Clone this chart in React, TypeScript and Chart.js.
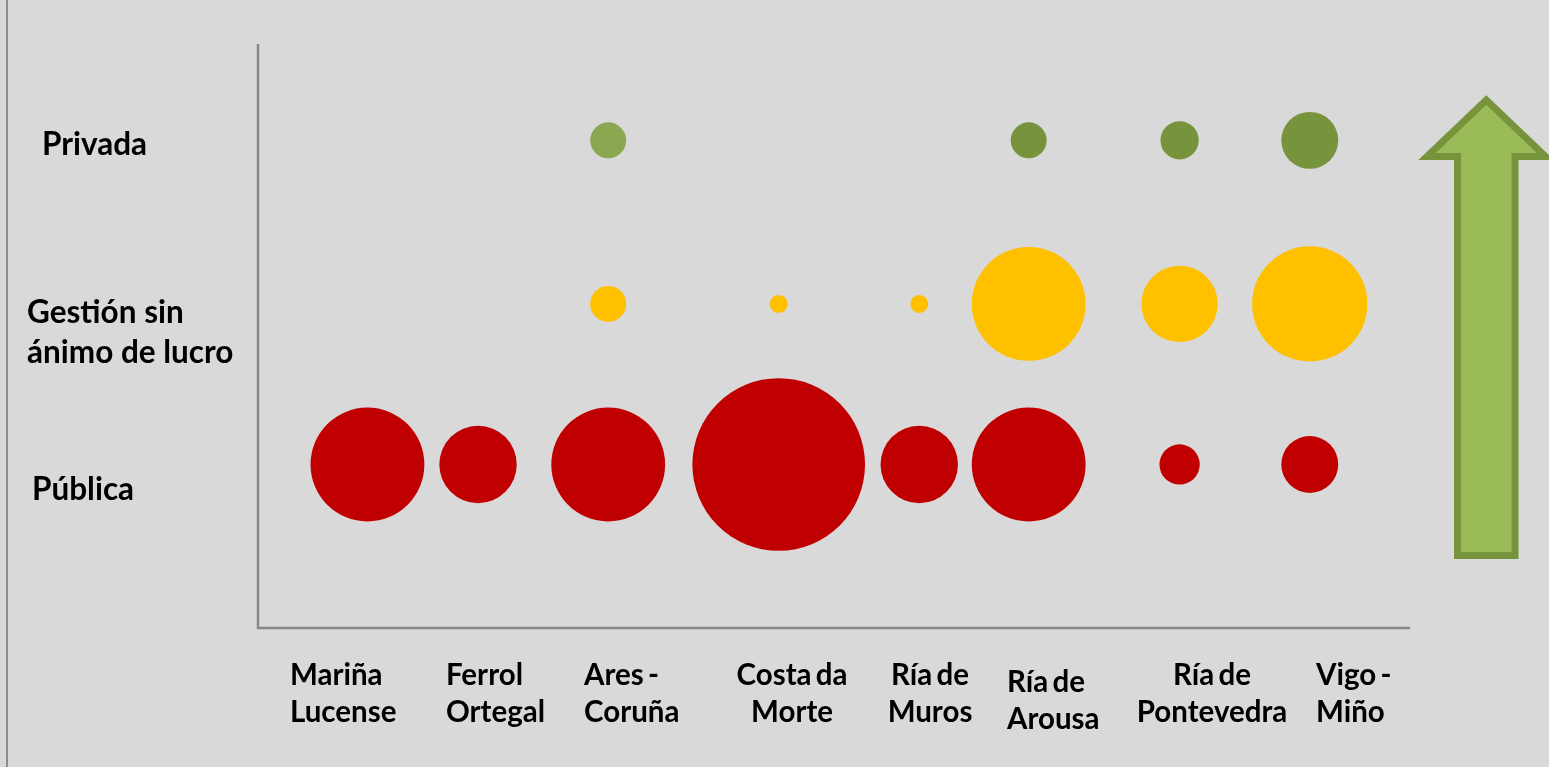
import { useEffect, useRef } from "react";
import { Chart, registerables } from "chart.js";

Chart.register(...registerables);

// ---- data ----
const regionLines: string[][] = [
  ["Mariña", "Lucense"],
  ["Ferrol", "Ortegal"],
  ["Ares -", "Coruña"],
  ["Costa da", "Morte"],
  ["Ría de", "Muros"],
  ["Ría de", "Arousa"],
  ["Ría de", "Pontevedra"],
  ["Vigo -", "Miño"],
];
const regionX = [0.95, 1.91, 3.04, 4.52, 5.74, 6.69, 8.0, 9.13];

const typeLines: string[][] = [["Pública"], ["Gestión sin", "ánimo de lucro"], ["Privada"]];
const typeY = [1.12, 2.22, 3.34];

const publicaSize: (number | null)[] = [40, 18.5, 40, 92, 18.5, 40, 5, 10];
const gestionSize: (number | null)[] = [null, null, 4, 1, 1, 40, 18, 41];
const privadaSize: (number | null)[] = [null, null, 4, null, null, 4, 4.5, 10];

const publicaColors = ["#c00000", "#c00000", "#c00000", "#c00000", "#c00000", "#c00000", "#c00000", "#c00000"];
const gestionColors = ["#ffc000", "#ffc000", "#ffc000", "#ffc000", "#ffc000", "#ffc000", "#ffc000", "#ffc000"];
const privadaColors = ["#77933c", "#77933c", "#8ba74f", "#77933c", "#77933c", "#77933c", "#77933c", "#77933c"];

// ---- layout (pixels) ----
const X_FONT = "bold 29.5px Lato, 'Open Sans', sans-serif";
const Y_FONT = "bold 31.5px Lato, 'Open Sans', sans-serif";
const xLabelLayout = [
  { x: 290, y: 685, align: "left" },
  { x: 446, y: 685, align: "left" },
  { x: 584, y: 685, align: "left" },
  { x: 792, y: 685, align: "center" },
  { x: 930, y: 685, align: "center" },
  { x: 1007, y: 692, align: "left" },
  { x: 1212, y: 685, align: "center" },
  { x: 1316, y: 685, align: "left" },
];
const yLabelLayout = [
  { x: 32, y: 500 },
  { x: 27, y: 323 },
  { x: 42, y: 155 },
];

const R_UNIT = 9.0;
const sizeToR = (v: number) => R_UNIT * Math.sqrt(v);

function makePoints(sizes: (number | null)[], colors: string[], y: number) {
  const pts: any[] = [];
  sizes.forEach((s, i) => {
    if (s != null) pts.push({ x: regionX[i], y, r: sizeToR(s), c: colors[i] });
  });
  return pts;
}

const decorPlugin = {
  id: "decor",
  beforeDraw(chart: any) {
    const { ctx, width, height, chartArea } = chart;
    ctx.save();
    ctx.fillStyle = "#d9d9d9";
    ctx.fillRect(0, 0, width, height);
    // left frame line
    ctx.strokeStyle = "#8c8c8c";
    ctx.lineWidth = 2;
    ctx.beginPath();
    ctx.moveTo(7, 0);
    ctx.lineTo(7, height);
    ctx.stroke();
    // axes
    ctx.strokeStyle = "#878787";
    ctx.lineWidth = 2.5;
    ctx.beginPath();
    ctx.moveTo(chartArea.left, chartArea.top);
    ctx.lineTo(chartArea.left, chartArea.bottom);
    ctx.lineTo(chartArea.right, chartArea.bottom);
    ctx.stroke();
    ctx.restore();
  },
  afterDraw(chart: any) {
    const { ctx } = chart;
    ctx.save();
    // arrow
    const cx = 1486.25;
    ctx.beginPath();
    ctx.moveTo(cx, 100);
    ctx.lineTo(1545.5, 156.5);
    ctx.lineTo(1515, 156.5);
    ctx.lineTo(1515, 555.5);
    ctx.lineTo(1457.5, 555.5);
    ctx.lineTo(1457.5, 156.5);
    ctx.lineTo(1427, 156.5);
    ctx.closePath();
    ctx.fillStyle = "#9bbb59";
    ctx.fill();
    ctx.strokeStyle = "#77933c";
    ctx.lineWidth = 7;
    ctx.lineJoin = "miter";
    ctx.stroke();

    // labels
    ctx.fillStyle = "#000000";
    ctx.textBaseline = "alphabetic";
    ctx.font = X_FONT;
    try { (ctx as any).wordSpacing = "-3px"; } catch (e) {}
    regionLines.forEach((lines, i) => {
      const L = xLabelLayout[i];
      ctx.textAlign = L.align;
      lines.forEach((t, j) => ctx.fillText(t, L.x, L.y + j * 37));
    });
    try { (ctx as any).wordSpacing = "0px"; } catch (e) {}
    ctx.textAlign = "left";
    ctx.font = Y_FONT;
    typeLines.forEach((lines, i) => {
      const L = yLabelLayout[i];
      lines.forEach((t, j) => ctx.fillText(t, L.x, L.y + j * 40));
    });
    ctx.restore();
  },
};

export default function App() {
  const ref = useRef<HTMLCanvasElement | null>(null);
  useEffect(() => {
    if (!ref.current) return;
    const chart = new Chart(ref.current, {
      type: "bubble",
      data: {
        datasets: [
          { label: "Pública", data: makePoints(publicaSize, publicaColors, typeY[0]) },
          { label: "Gestión sin ánimo de lucro", data: makePoints(gestionSize, gestionColors, typeY[1]) },
          { label: "Privada", data: makePoints(privadaSize, privadaColors, typeY[2]) },
        ],
      },
      options: {
        animation: false,
        responsive: true,
        maintainAspectRatio: false,
        devicePixelRatio: 1,
        layout: { autoPadding: false, padding: { left: 258, right: 139, top: 44, bottom: 139 } },
        elements: {
          point: {
            backgroundColor: (c: any) => (c.raw ? c.raw.c : "#000"),
            borderWidth: 0,
            hoverBorderWidth: 0,
          },
        },
        scales: {
          x: { type: "linear", min: 0, max: 10, display: false },
          y: { type: "linear", min: 0, max: 4, display: false },
        },
        plugins: {
          legend: { display: false },
          tooltip: { enabled: false },
        },
        clip: false,
      } as any,
      plugins: [decorPlugin],
    });
    return () => chart.destroy();
  }, []);
  return (
    <div style={{ position: "fixed", left: 0, top: 0, width: 1549, height: 767, background: "#d9d9d9" }}>
      <canvas ref={ref} />
    </div>
  );
}
